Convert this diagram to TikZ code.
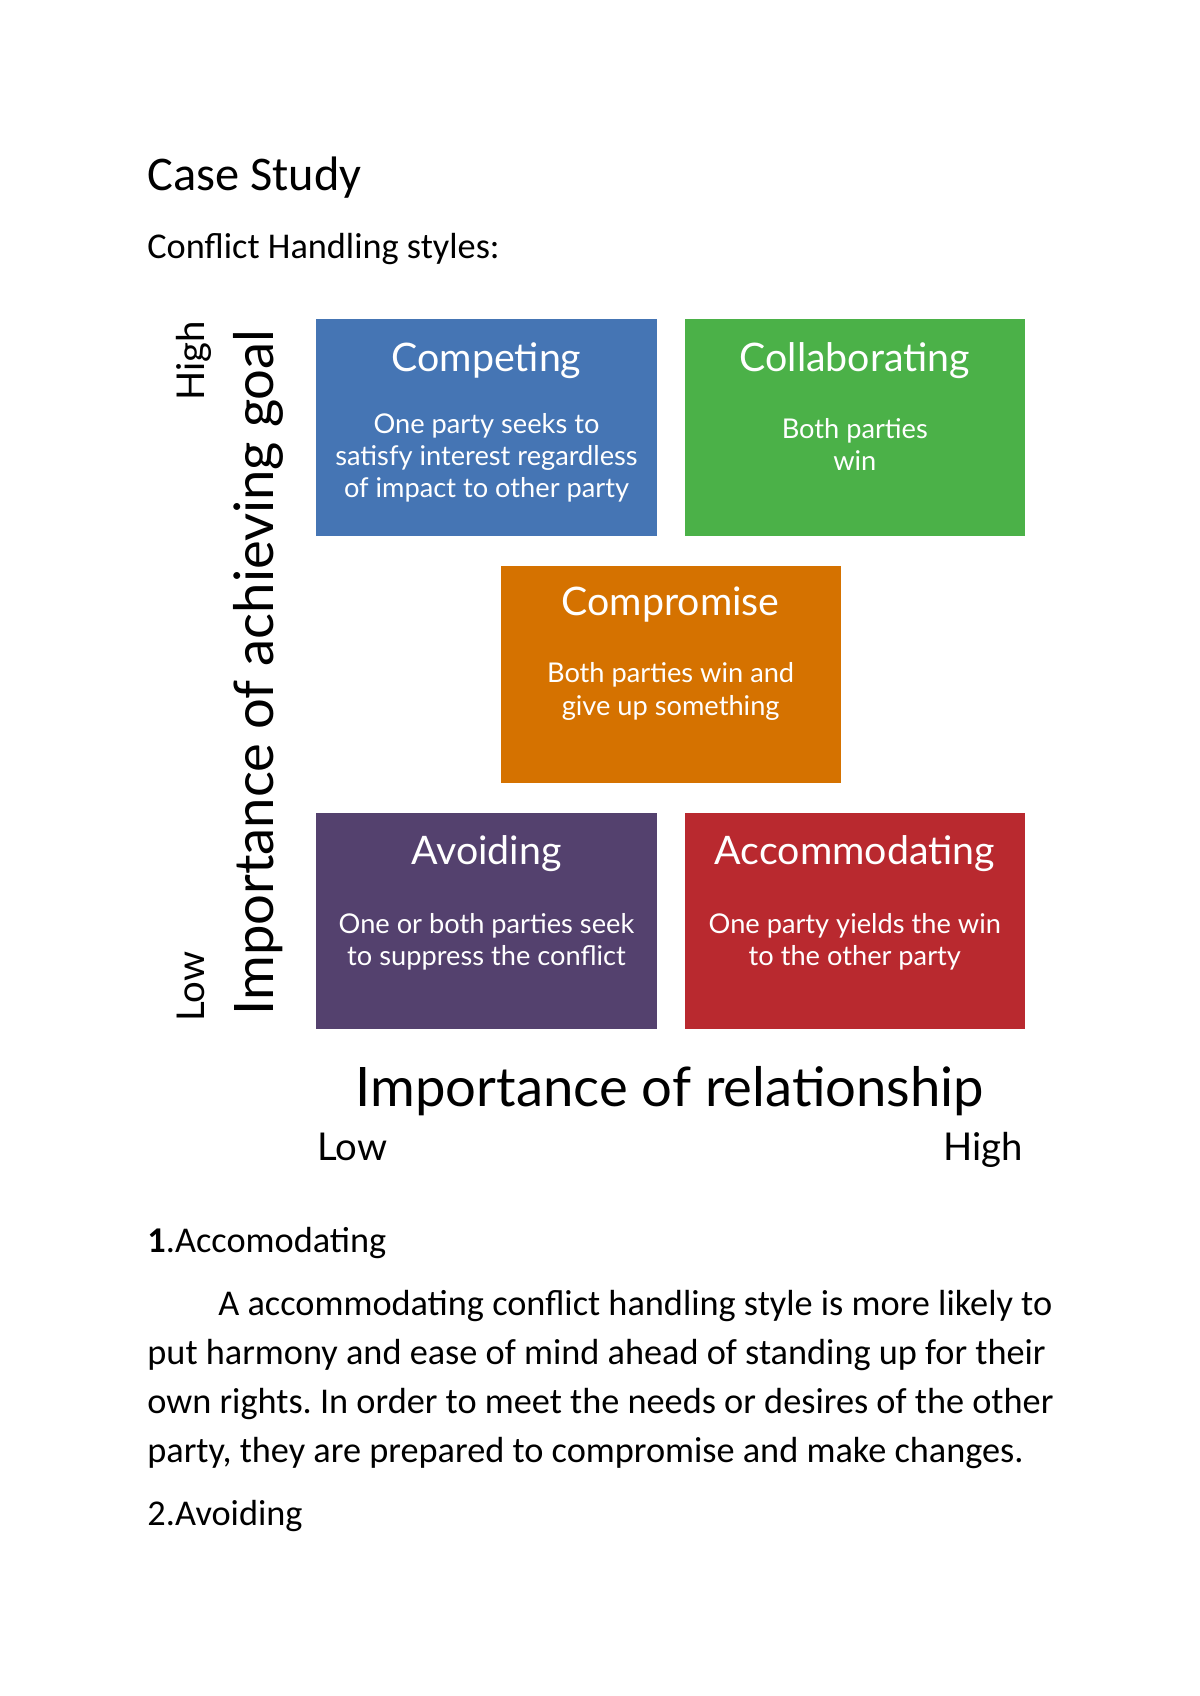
\documentclass[tikz,border=0pt]{standalone}
\usepackage{fontspec}
\setmainfont{Carlito}
\newfontfamily\figfont{Lato}
\usepackage{tikz}
\usetikzlibrary{positioning}
\usetikzlibrary{calc}
\frenchspacing

\definecolor{competeblue}{RGB}{69,117,180}
\definecolor{collabgreen}{RGB}{75,177,72}
\definecolor{compromiseorange}{RGB}{213,114,0}
\definecolor{avoidpurple}{RGB}{84,65,110}
\definecolor{accomred}{RGB}{185,41,47}

\begin{document}
\begin{tikzpicture}[
  x=0.49606pt,y=-0.49606pt,node distance=14.4pt and 13.6pt,
  box/.style={rectangle,minimum width=168.7pt,minimum height=107.6pt,inner sep=0pt},
  boxtitle/.style={font=\figfont\fontsize{19.5}{22}\selectfont,text=white,anchor=base,inner sep=0pt},
  boxtext/.style={font=\figfont\fontsize{13.5}{16}\selectfont,text=white,align=center,inner sep=0pt},
  axislabel/.style={font=\figfont\fontsize{27}{32}\selectfont,inner sep=0pt},
  scalelabel/.style={font=\figfont\fontsize{19}{22}\selectfont,inner sep=0pt},
  doc/.style={font=\fontsize{18}{24}\selectfont,anchor=base west,inner sep=0pt}
  ]
  \useasboundingbox [fill=white] (0,0) rectangle (1200,1696);

  % heading
  \node (casestudy) [doc,font=\fontsize{24}{28}\selectfont] at (147,190) {Case Study};
  \node (styles)    [doc] at (147,258) {Conflict Handling styles:};

  % the five styles
  \node (competing)     [box,fill=competeblue] at (486.5,427.5) {};
  \node (collaborating) [box,fill=collabgreen,right=of competing] {};
  \coordinate (middle) at ($(competing.south east)!.5!(collaborating.south west)$);
  \node (compromise)    [box,fill=compromiseorange,below=of middle] {};
  \node (avoiding)      [box,fill=avoidpurple,below=of compromise.south -| competing] {};
  \node (accommodating) [box,fill=accomred,right=of avoiding] {};

  \node [boxtitle] at ([yshift=-26pt]competing.north)     {Competing};
  \node [boxtitle] at ([yshift=-26pt]collaborating.north) {Collaborating};
  \node [boxtitle] at ([yshift=-25pt]compromise.north)    {Compromise};
  \node [boxtitle] at ([yshift=-26pt]avoiding.north)      {Avoiding};
  \node [boxtitle] at ([yshift=-26pt]accommodating.north) {Accommodating};

  \node [boxtext,below=46.6pt of competing.north]     {One party seeks to\\satisfy interest regardless\\of impact to other party};
  \node [boxtext,below=49.1pt of collaborating.north] {Both parties\\win};
  \node [boxtext,below=48.1pt of compromise.north]    {Both parties win and\\give up something};
  \node [boxtext,below=50.1pt of avoiding.north]      {One or both parties seek\\to suppress the conflict};
  \node [boxtext,below=50.1pt of accommodating.north] {One party yields the win\\to the other party};

  % axes
  \node (goal)         [axislabel,rotate=90,anchor=base west] at (273,1016) {Importance of achieving goal};
  \node (goalhigh)     [scalelabel,rotate=90,anchor=base east] at (204,321) {High};
  \node (goallow)      [scalelabel,rotate=90,anchor=base west] at (204,1022) {Low};
  \node (relation)     [axislabel,anchor=base] at (670,1106) {Importance of relationship};
  \node (relationlow)  [scalelabel,anchor=base west] at (317,1160) {Low};
  \node (relationhigh) [scalelabel,anchor=base east] at (1023,1160) {High};

  % text below
  \node (first)  [doc] at (147,1252) {\textbf{1}.Accomodating};
  \node (para1)  [doc] at (218,1315) {A accommodating conflict handling style is more likely to};
  \node (para2)  [doc] at (147,1364) {put harmony and ease of mind ahead of standing up for their};
  \node (para3)  [doc] at (147,1413) {own rights. In order to meet the needs or desires of the other};
  \node (para4)  [doc] at (147,1462) {party, they are prepared to compromise and make changes.};
  \node (second) [doc] at (147,1525) {2.Avoiding};
\end{tikzpicture}
\end{document}
